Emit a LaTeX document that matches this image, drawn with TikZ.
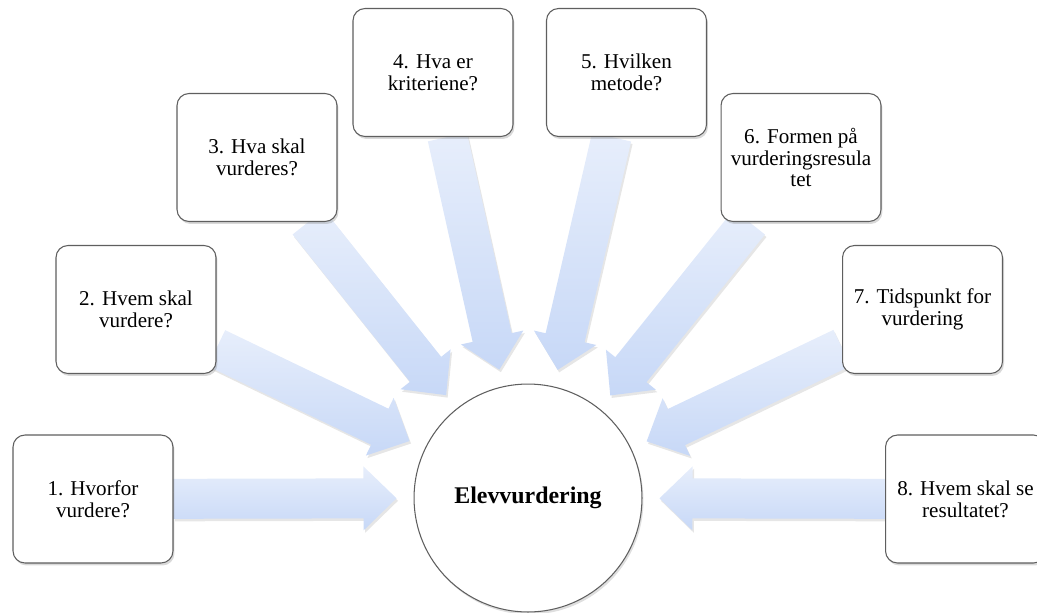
\documentclass[tikz,border=0pt]{standalone}
\usepackage{fontspec}
\setmainfont{Liberation Serif}
\usetikzlibrary{calc,shadows,backgrounds}
\definecolor{arrowlight}{RGB}{231,238,251}
\definecolor{arrowdark}{RGB}{199,216,247}
\definecolor{boxline}{RGB}{95,95,95}

\begin{document}
\begin{tikzpicture}[x=0.02cm, y=-0.02cm,
  qbox/.style={draw=boxline, line width=0.6pt, fill=white, rounded corners=0.24cm,
    minimum width=3.2cm, minimum height=2.56cm, inner sep=0pt, align=center,
    font=\fontsize{12}{12.5}\selectfont,
    drop shadow={shadow xshift=0.03cm, shadow yshift=-0.05cm, opacity=0.3}},
  hub/.style={circle, draw=boxline, line width=0.6pt, fill=white, minimum size=4.56cm,
    font=\fontsize{13.6}{15}\selectfont\bfseries,
    drop shadow={shadow xshift=0.03cm, shadow yshift=-0.05cm, opacity=0.25}},
  bigarrow/.style={top color=arrowlight, bottom color=arrowdark,
    drop shadow={shadow xshift=0.03cm, shadow yshift=-0.05cm, opacity=0.2}}]
  \useasboundingbox (0,0) rectangle (1037,612);
  \clip (0,0) rectangle (1037,612);
  % centre
  \node[hub] (hub) at (528,498) {Elevvurdering};
  % questions round it
  \node[qbox] (q1) at (93,499)    {1. Hvorfor\\vurdere?};
  \node[qbox] (q2) at (136,309.5) {2. Hvem skal\\vurdere?};
  \node[qbox] (q3) at (257,157.5) {3. Hva skal\\vurderes?};
  \node[qbox] (q4) at (433,72.5)  {4. Hva er\\kriteriene?};
  \node[qbox] (q5) at (626.5,72.5){5. Hvilken\\metode?};
  \node[qbox] (q6) at (801,157.5) {6. Formen på\\vurderingsresula\\tet};
  \node[qbox] (q7) at (922.5,309.5){7. Tidspunkt for\\vurdering};
  \node[qbox] (q8) at (965.5,499) {8. Hvem skal se\\resultatet?};
  % block arrows pointing in to the centre
  \begin{scope}[on background layer]
    \foreach \k in {1,...,8} {
      \path (q\k) -- (hub) coordinate[pos=0] (s\k) coordinate[pos=1] (e\k);
      \coordinate (t\k) at ($(e\k)!0.34cm!(s\k)$);
      \coordinate (h\k) at ($(t\k)!0.66cm!(s\k)$);
      \path[bigarrow] ($(s\k)!0.4cm!90:(t\k)$) -- ($(h\k)!0.4cm!90:(t\k)$)
        -- ($(h\k)!0.64cm!90:(t\k)$) -- (t\k) -- ($(h\k)!0.64cm!-90:(t\k)$)
        -- ($(h\k)!0.4cm!-90:(t\k)$) -- ($(s\k)!0.4cm!-90:(t\k)$) -- cycle;
    }
  \end{scope}
\end{tikzpicture}
\end{document}
